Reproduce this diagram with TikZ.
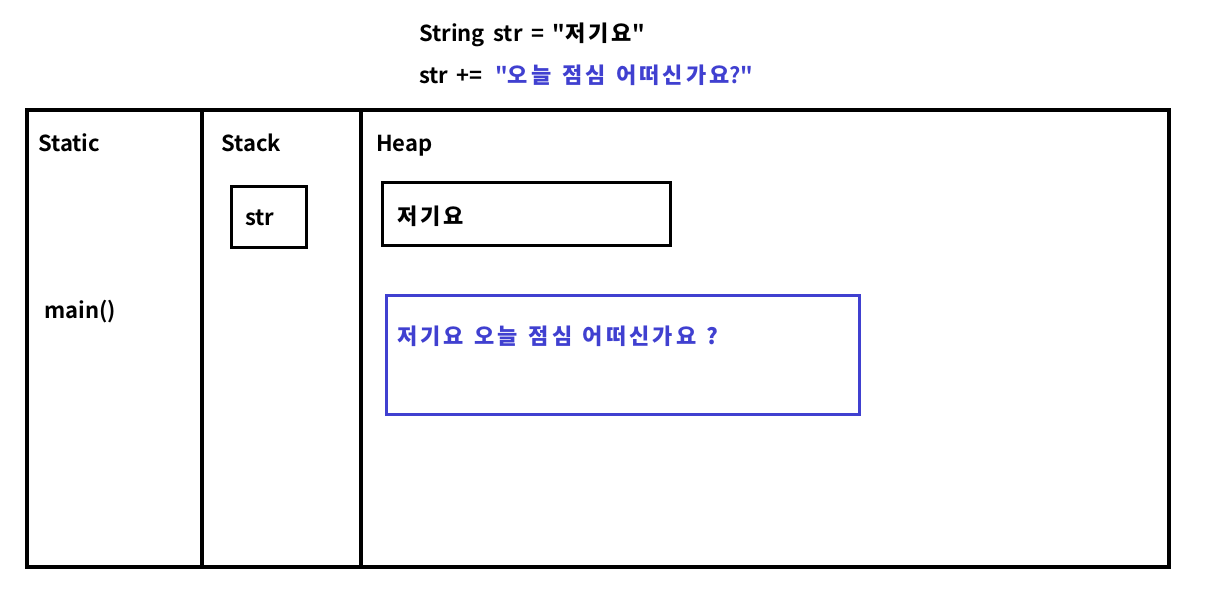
\documentclass[tikz,border=0pt]{standalone}
\usepackage{fontspec}
\setmainfont{Noto Sans CJK KR}[BoldFont={Noto Sans CJK KR Bold}, Ligatures=TeXOff, WordSpace=1.7]
\newfontfamily\krfont{Noto Sans CJK KR Bold}[Ligatures=TeXOff, LetterSpace=14, WordSpace=1.3]
\usepackage{tikz}
\usetikzlibrary{positioning}

\definecolor{strblue}{RGB}{64,64,208}

\begin{document}
\begin{tikzpicture}[
  x=1pt, y=-1pt,
  txt/.style={inner sep=0pt, anchor=west, text height=16pt, text depth=5pt,
    font=\fontsize{22}{26}\selectfont\bfseries},
  frame/.style={draw, line width=4.5pt},
  box/.style={draw, line width=2.8pt, inner sep=0pt, anchor=north west},
  bluebox/.style={box, draw=strblue}
]
\useasboundingbox (0,0) rectangle (1224,614);
% code above the memory layout
\node[txt] (line1) at (419,36) {String str = "{\krfont 저기요}"};
\node[txt] (line2a) at (419,78) {str +=};
\node[txt, text=strblue, right=12pt of line2a] (line2b) {"{\krfont 오늘 점심 어떠신가요}?"};
% memory areas
\draw[frame] (27,110) rectangle (1169,567);
\draw[frame] (202,110) -- (202,567);
\draw[frame] (361,110) -- (361,567);
\node[txt] (static) at (38,146) {Static};
\node[txt] (stack) at (221,146) {Stack};
\node[txt] (heap) at (376,146) {Heap};
\node[txt] (main) at (44,313) {main()};
% stack variable
\node[box, minimum width=75pt, minimum height=61pt] (strbox) at (230,185) {};
\node[txt] (strtxt) at ([xshift=15pt,yshift=-3pt]strbox.west) {str};
% heap objects
\node[box, minimum width=288pt, minimum height=63pt] (obj1) at (381,181) {};
\node[txt] (obj1txt) at ([xshift=16pt,yshift=-5pt]obj1.west) {\krfont 저기요};
\node[bluebox, minimum width=473pt, minimum height=119pt] (obj2) at (385,294) {};
\node[txt, text=strblue] (obj2txt) at (397,339) {\krfont 저기요 오늘 점심 어떠신가요 ?};
\end{tikzpicture}
\end{document}
